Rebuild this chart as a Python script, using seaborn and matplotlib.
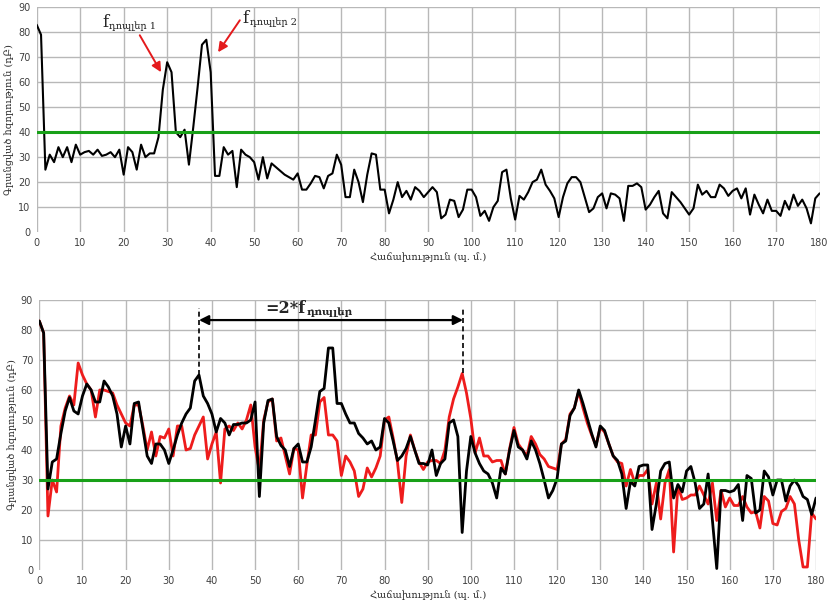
import matplotlib
matplotlib.use("Agg")
import matplotlib.pyplot as plt
import numpy as np
import pandas as pd
import seaborn as sns

# Frequency axis (one sample per unit)
freq = list(range(0, 181))

# Upper panel: recorded power
power_top = [
    83, 79, 25, 31, 28, 34, 30, 34, 28, 35,
    31, 32, 32.5, 31, 33, 30.5, 31, 32, 30, 33,
    23, 34, 32, 25, 35, 30, 31.5, 31.5, 38, 57,
    68, 64, 40, 38, 41, 27, 42, 58, 75, 77,
    64, 22.5, 22.5, 34, 31, 32.5, 18, 33, 31, 30,
    28, 21, 30, 21.5, 27.5, 26, 24.5, 23, 22, 21,
    23.5, 17, 17, 19.5, 22.5, 22, 17.5, 22.5, 23.5, 31,
    27, 14, 14, 25, 20, 12, 23, 31.5, 31, 17,
    17, 7.5, 13, 20, 14, 16.5, 13, 18, 16.5, 14,
    16, 18, 16, 5.5, 7, 13, 12.5, 6, 9, 17,
    17, 14, 6.5, 8.5, 4.5, 10, 12.5, 24, 25, 13.5,
    5, 14.5, 13, 16, 20, 21, 25, 19, 16.5, 13.5,
    6, 14, 19.5, 22, 22, 20, 14, 8, 9.5, 14,
    15.5, 9.5, 15.5, 15, 13.5, 4.5, 18.5, 18.5, 19.5, 18,
    9, 11, 14, 16.5, 7.5, 5.5, 16, 14, 12, 9.5,
    7, 9.5, 19, 15, 16.5, 14, 14, 19, 17.5, 14.5,
    16.5, 17.5, 13.5, 17.5, 7, 15, 11, 7.5, 13, 8.5,
    8.5, 6.5, 12.5, 9, 15, 10.5, 13, 9.5, 3.5, 13.5,
    15.5,
]

# Lower panel: black series
power_black = [
    83, 79, 27, 36, 37, 45.5, 53, 57.5, 53, 52,
    58, 62, 60, 56, 56, 63, 61, 58, 52, 41,
    48, 42, 55.5, 56, 47, 38, 35.5, 42, 42, 40,
    35.5, 40, 45, 49, 52, 54, 63, 65, 58, 55.5,
    52, 46, 50.5, 49, 45, 48.5, 48.5, 49, 49, 50,
    56, 24.5, 49, 56.5, 57, 44.5, 41.5, 40, 34.5, 40.5,
    42, 36, 36, 41, 50, 59.5, 60.5, 74, 74, 55.5,
    55.5, 52, 49, 49, 45.5, 44, 42, 43, 40, 41,
    50.5, 49, 43, 36.5, 38, 40.5, 44.5, 40, 35.5, 35.5,
    35, 40, 31.5, 35.5, 37, 49, 50, 44.5, 12.5, 33,
    44.5, 39, 35.5, 33, 32, 29, 24, 34, 32, 40,
    46.5, 41, 40, 37, 43, 40, 35.5, 30, 24, 26.5,
    30.5, 42, 43, 51.5, 54, 60, 55.5, 50.5, 45.5, 41,
    48, 46.5, 42, 38, 36.5, 32, 20.5, 29.5, 28, 34.5,
    35, 35, 13.5, 22, 33, 35.5, 36, 24, 28.5, 26,
    33, 34.5, 29, 20.5, 22, 32, 16.5, 0.5, 26.5, 26.5,
    26, 26.5, 28.5, 16.5, 31.5, 30.5, 19, 20, 33, 31,
    25, 30, 30, 23, 28, 30, 28, 24.5, 23.5, 18.5,
    24,
]

# Lower panel: red series
power_red = [
    83, 79, 18, 30, 26, 48, 54, 58, 55, 69,
    65, 62, 60, 51, 60, 60, 59.5, 59, 55, 52,
    49, 48, 55, 55, 48, 40, 46, 38, 44.5, 44,
    47, 38, 48, 48, 40, 40.5, 45, 48, 51, 37,
    42, 46, 29, 47, 48, 46.5, 49, 47, 50, 55,
    41, 33, 50, 56, 57, 43, 44, 38, 32, 40.5,
    40, 24, 35, 45, 45, 56, 57.5, 45, 45, 43,
    31.5, 38, 36, 33, 24.5, 27, 34, 31, 34, 38,
    50, 51, 44, 36, 22.5, 38, 45, 40, 36, 33.5,
    36, 36.5, 36.5, 35.5, 40, 51, 57, 61, 65.5, 59,
    50.5, 39, 44, 38, 38, 36, 36.5, 36.5, 32, 40.5,
    47.5, 42, 40, 38, 44.5, 42, 38.5, 37, 34.5, 34,
    33.5, 42, 43.5, 52, 54, 59.5, 54, 49, 45, 41.5,
    47.5, 46, 42, 38, 36, 35.5, 28, 33.5, 29, 31.5,
    31.5, 33.5, 22, 29, 17, 29, 33.5, 6, 28, 23.5,
    24, 25, 25, 28, 25, 22, 29, 16.5, 26.5, 21,
    24, 21.5, 21.5, 24.5, 21, 19, 19.5, 14, 24.5, 23,
    15.5, 15, 19.5, 20.5, 24.5, 22, 10, 1, 1, 19,
    17,
]

threshold_top = 40
threshold_bottom = 30

xlabel = "Հաճախություն (պ. մ.)"
ylabel = "Գրանցված հզորություն (դԲ)"
doppler = "դոպլեր"

top_df = pd.DataFrame({"freq": freq, "power": power_top})
bot_df = pd.DataFrame({"freq": freq, "black": power_black, "red": power_red})

sns.set_style("white")
plt.rcParams["font.family"] = ["DejaVu Sans"]
serif = ["DejaVu Serif", "DejaVu Sans"]

fig = plt.figure(figsize=(8.28, 6.06), dpi=100)
ax1 = fig.add_axes([0.0443, 0.617, 0.9456, 0.371])
ax2 = fig.add_axes([0.0475, 0.0594, 0.938, 0.4456])


def style(ax):
    ax.set_xlim(0, 180)
    ax.set_ylim(0, 90)
    ax.set_xticks(range(0, 181, 10))
    ax.set_yticks(range(0, 91, 10))
    ax.set_xticks(range(0, 181), minor=True)
    ax.grid(True, which="major", color="#b8b8b8", lw=1)
    ax.grid(False, which="minor")
    for s in ax.spines.values():
        s.set_visible(False)
    ax.tick_params(axis="both", which="major", labelsize=7, labelcolor="#404040",
                   length=3, width=1, color="#8890a8", direction="out", pad=1.5)
    ax.tick_params(axis="x", which="minor", length=2, width=1, color="#8890a8",
                   direction="out")
    ax.yaxis.get_gridlines()[0].set_visible(False)
    ax.set_xlabel(xlabel, family=serif, fontsize=7, color="#303030", labelpad=3)
    ax.set_ylabel(ylabel, family=serif, fontsize=7, color="#303030", labelpad=3)


def f_label(ax, x, y, main, sub, size=12, subsize=7, weight="normal"):
    """Draw a symbol followed by a slightly lowered subscript right after it."""
    t = ax.text(x, y, main, family=serif, fontsize=size, fontweight=weight,
                va="baseline", ha="left")
    ax.annotate(sub, xy=(1.0, 0.24), xycoords=t, xytext=(0.8, -1.5),
                textcoords="offset points", family=serif, fontsize=subsize,
                fontweight=weight, va="baseline", ha="left")


# Upper panel
sns.lineplot(data=top_df, x="freq", y="power", ax=ax1, color="black", lw=1.5)
ax1.axhline(threshold_top, color="#18a018", lw=2.2, zorder=3)
style(ax1)

f_label(ax1, 15.0, 82.0, "f", doppler + " 1", size=12)
f_label(ax1, 47.3, 83.6, "f", doppler + " 2", size=12)
arrow_red = dict(arrowstyle="-|>", color="#e41a1c", lw=1.4, mutation_scale=14,
                 shrinkA=0, shrinkB=0)
ax1.annotate("", xy=(28.6, 64), xytext=(23.7, 78.8), arrowprops=arrow_red)
ax1.annotate("", xy=(41.7, 72), xytext=(46.7, 84.8), arrowprops=arrow_red)

# Lower panel
sns.lineplot(data=bot_df, x="freq", y="red", ax=ax2, color="#ee1c1c", lw=2.0)
sns.lineplot(data=bot_df, x="freq", y="black", ax=ax2, color="black", lw=2.0)
ax2.axhline(threshold_bottom, color="#18a018", lw=2.2, zorder=3)
style(ax2)

x_left, x_right = 37, 98.2
ax2.vlines([x_left], power_black[37], 87.3, colors="black", linestyles=(0, (3, 2)), lw=1.2)
ax2.vlines([x_right], power_red[98], 87.3, colors="black", linestyles=(0, (3, 2)), lw=1.2)
ax2.annotate("", xy=(x_right, 83.3), xytext=(x_left, 83.3),
             arrowprops=dict(arrowstyle="<|-|>", color="black", lw=1.6,
                             mutation_scale=14, shrinkA=0, shrinkB=0))
f_label(ax2, 52.4, 85.8, "=2*f", doppler, size=11.5, subsize=7.5, weight="bold")

fig.savefig("out.png", dpi=100)
